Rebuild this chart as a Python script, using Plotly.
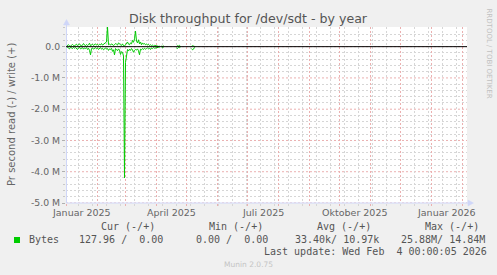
import plotly.graph_objects as go
import pandas as pd

# ---------------- data (daily averages, k bytes/s) ----------------
first_day = "2025-01-01"
write_k = [
    20, 40, 60, 30, 10, 50, 70, 40, 20, 60,
    80, 30, 50, 90, 40, 20, 60, 100, 50, 30,
    70, 40, 60, 110, 30, 50, 80, 40, 60, 90,
    50, 70, 40, 80, 60, 100, 50, 70, 90, 110,
    150, 640, 60, 80, 50, 90, 70, 40, 60, 100,
    80, 50, 120, 70, 60, 40, 90, 30, 20, 60,
    100, 150, 80, 60, 120, 90, 200, 140, 250, 500,
    180, 120, 220, 90, 150, 60, 120, 80, 100, 60,
    90, 50, 70, 40, 60, 30, 50, 20, 40, 30,
    20, 30, 10, 20, None, 20, 10, 30, None, None,
    None, None, None, None, None, None, None, None, None, None,
    10, 30, 20, 40, 10, None, None, None, None, None,
    None, None, None, None, None, 10, 30, 20, 10, None,
    None, None, None, None,
]
read_k = [
    30, 10, 50, 70, 20, 40, 60, 20, 50, 30,
    60, 90, 40, 20, 70, 50, 30, 80, 40, 60,
    30, 90, 50, 120, 260, 60, 40, 80, 50, 30,
    70, 40, 90, 60, 30, 80, 50, 100, 60, 40,
    80, 60, 120, 70, 90, 50, 150, 100, 260, 60,
    90, 130, 70, 110, 250, 160, 180, 300, 4200, 500,
    300, 90, 140, 80, 120, 60, 100, 180, 120, 90,
    110, 70, 130, 260, 80, 100, 60, 90, 50, 80,
    60, 40, 70, 50, 90, 40, 60, 30, 50, 40,
    30, 40, 20, 30, None, 10, 30, 20, None, None,
    None, None, None, None, None, None, None, None, None, None,
    40, 60, 20, 30, 10, None, None, None, None, None,
    None, None, None, None, None, 60, 100, 80, 20, None,
    None, None, None, None,
]

x_range = ["2024-12-31 12:00", "2026-02-05 12:00"]
y_range = [-5.0e6, 0.629e6]
y_tick_vals = [0, -1e6, -2e6, -3e6, -4e6, -5e6]
y_tick_text = ["0.0", "-1.0 M", "-2.0 M", "-3.0 M", "-4.0 M", "-5.0 M"]
y_minor_vals = [k * 200000 for k in range(-24, 4) if k % 5 != 0]
month_starts = pd.date_range("2025-01-01", "2026-02-01", freq="MS")
x_minor_vals = pd.date_range("2025-01-13", "2026-02-04", freq="14D")
x_label_dates = ["2025-01-16", "2025-04-16", "2025-07-16", "2025-10-16", "2026-01-16"]
x_label_text = ["Januar 2025", "April 2025", "Juli 2025", "Oktober 2025", "Januar 2026"]

title = "Disk throughput for /dev/sdt - by year"
y_title = "Pr second read (-) / write (+)"
legend_headers = ["Cur (-/+)", "Min (-/+)", "Avg (-/+)", "Max (-/+)"]
series_name = "Bytes"
legend_values = ["127.96 /  0.00", "0.00 /  0.00", "33.40k/ 10.97k", "25.88M/ 14.84M"]
last_update = "Last update: Wed Feb  4 00:00:05 2026"
watermark = "RRDTOOL / TOBI OETIKER"
footer = "Munin 2.0.75"

# ---------------- layout geometry ----------------
FW, FH = 497, 275
L, T, W, H = 66, 27, 401, 176
R, B = FW - L - W, FH - T - H


def xp(px):
    return (px - L) / W


def yp(py):
    return (T + H - py) / H


def nb(s):
    return s.replace(" ", "\u00a0")


GREEN = "#00CC00"
FONT = "DejaVu Sans"
MONO = "DejaVu Sans Mono"
AXIS = "#CFD6F8"

dates = pd.date_range(first_day, periods=len(write_k), freq="D")
write_y = [None if v is None else v * 1000 for v in write_k]
read_y = [None if v is None else -v * 1000 for v in read_k]

fig = go.Figure()
fig.add_trace(go.Scatter(x=dates, y=read_y, mode="lines",
                         line=dict(color=GREEN, width=1), connectgaps=False,
                         hoverinfo="skip"))
fig.add_trace(go.Scatter(x=dates, y=write_y, mode="lines",
                         line=dict(color=GREEN, width=1), connectgaps=False,
                         hoverinfo="skip"))

MAJ = "#EBB0B0"
MIN = "#D6D6D6"
DASH = "2px,2px"

fig.update_layout(
    width=FW, height=FH,
    margin=dict(l=L, r=R, t=T, b=B, pad=0),
    paper_bgcolor="#F0F0F0", plot_bgcolor="#FFFFFF",
    showlegend=False,
    xaxis=dict(type="date", range=x_range, tickmode="array",
               tickvals=list(month_starts), ticktext=[""] * len(month_starts),
               showgrid=True, gridcolor=MAJ, griddash=DASH, gridwidth=1,
               ticks="outside", ticklen=2, tickcolor=MAJ,
               minor=dict(tickmode="array", tickvals=list(x_minor_vals), showgrid=True,
                          gridcolor=MIN, griddash=DASH, gridwidth=1,
                          ticks="outside", ticklen=2, tickcolor=MIN),
               showline=False, zeroline=False, fixedrange=True),
    yaxis=dict(range=y_range, tickmode="array", tickvals=y_tick_vals,
               ticktext=y_tick_text, tickfont=dict(family=FONT, size=9.3, color="#666666"),
               ticks="outside", ticklen=3, tickcolor="#B0B0B0",
               showgrid=False,
               minor=dict(tickmode="array", tickvals=y_minor_vals, showgrid=True,
                          gridcolor=MIN, griddash=DASH, gridwidth=1, ticks="outside",
                          ticklen=2, tickcolor="#C8C8C8"),
               showline=False, zeroline=False, fixedrange=True),
)

shapes = []
# major horizontal grid (drawn as shapes below the data)
for v in y_tick_vals:
    shapes.append(dict(type="line", xref="paper", yref="y", x0=0, x1=1, y0=v, y1=v,
                       line=dict(color=MAJ, width=1, dash=DASH), layer="below"))
# axes
shapes.append(dict(type="line", xref="paper", yref="paper", x0=xp(66.5), x1=xp(469),
                   y0=yp(203), y1=yp(203), line=dict(color=AXIS, width=1), layer="above"))
shapes.append(dict(type="line", xref="paper", yref="paper", x0=xp(66.5), x1=xp(66.5),
                   y0=yp(203), y1=yp(24), line=dict(color=AXIS, width=1), layer="above"))
shapes.append(dict(type="path", xref="paper", yref="paper",
                   path=f"M {xp(468)} {yp(200)} L {xp(473.5)} {yp(203)} L {xp(468)} {yp(206)} Z",
                   fillcolor=AXIS, line=dict(color=AXIS, width=0.5), layer="above"))
shapes.append(dict(type="path", xref="paper", yref="paper",
                   path=f"M {xp(63.5)} {yp(25)} L {xp(66.5)} {yp(19.5)} L {xp(69.5)} {yp(25)} Z",
                   fillcolor=AXIS, line=dict(color=AXIS, width=0.5), layer="above"))
# zero rule
shapes.append(dict(type="line", xref="paper", yref="y", x0=0, x1=1, y0=0, y1=0,
                   line=dict(color="#000000", width=1), layer="above"))
# legend swatch
shapes.append(dict(type="rect", xref="paper", yref="paper", x0=xp(14), x1=xp(20),
                   y0=yp(243), y1=yp(237), fillcolor=GREEN, line=dict(width=0)))
fig.update_layout(shapes=shapes)

ann = []
ann.append(dict(text=title, x=xp(248), y=yp(18.5), xref="paper", yref="paper",
                showarrow=False, xanchor="center", yanchor="middle",
                font=dict(family=FONT, size=12.6, color="#555555")))
ann.append(dict(text=y_title, x=xp(11), y=yp(115), xref="paper", yref="paper",
                showarrow=False, textangle=-90, xanchor="center", yanchor="middle",
                font=dict(family=FONT, size=10, color="#666666")))
ann.append(dict(text=watermark, x=xp(488.5), y=yp(53), xref="paper", yref="paper",
                showarrow=False, textangle=90, xanchor="center", yanchor="middle",
                font=dict(family=FONT, size=7, color="#C0C0C0")))
for d, t in zip(x_label_dates, x_label_text):
    ann.append(dict(text=t, x=d, y=yp(212.7), xref="x", yref="paper", showarrow=False,
                    xanchor="center", yanchor="middle",
                    font=dict(family=FONT, size=9.5, color="#666666")))
hdr_x = [99, 206.7, 315, 422.7]
for hx, h in zip(hdr_x, legend_headers):
    ann.append(dict(text=nb(h), x=xp(hx), y=yp(226.7), xref="paper", yref="paper",
                    showarrow=False, xanchor="left", yanchor="middle",
                    font=dict(family=MONO, size=10, color="#555555")))
ann.append(dict(text=series_name, x=xp(26.5), y=yp(239.7), xref="paper", yref="paper",
                showarrow=False, xanchor="left", yanchor="middle",
                font=dict(family=MONO, size=10, color="#555555")))
val_x = [77.3, 194, 293.3, 398.7]
for vx, v in zip(val_x, legend_values):
    ann.append(dict(text=nb(v), x=xp(vx), y=yp(239.7), xref="paper", yref="paper",
                    showarrow=False, xanchor="left", yanchor="middle",
                    font=dict(family=MONO, size=10, color="#555555")))
ann.append(dict(text=nb(last_update), x=xp(261.7), y=yp(251.7), xref="paper", yref="paper",
                showarrow=False, xanchor="left", yanchor="middle",
                font=dict(family=MONO, size=10, color="#555555")))
ann.append(dict(text=footer, x=xp(248), y=yp(264), xref="paper", yref="paper",
                showarrow=False, xanchor="center", yanchor="middle",
                font=dict(family=FONT, size=7.5, color="#C4C4C4")))
fig.update_layout(annotations=ann)

fig.write_html("out.html")
